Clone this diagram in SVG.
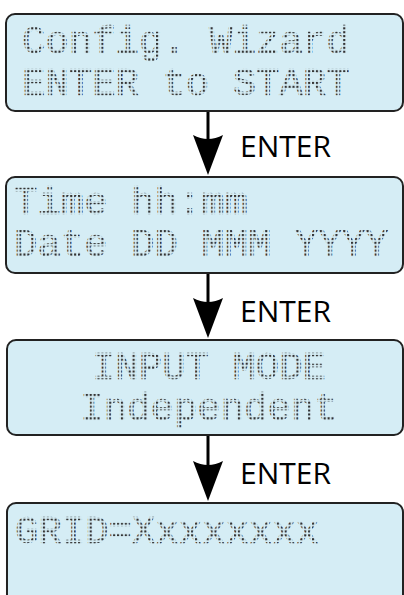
<svg xmlns="http://www.w3.org/2000/svg" width="404" height="595" viewBox="0 0 404 595">
  <style>
    .box { fill: #d5edf5; stroke: #222; stroke-width: 2; }
    .lcd { font-family: "Liberation Mono", "DejaVu Sans Mono", monospace; font-size: 39px; fill: url(#dots); stroke: url(#dots); stroke-width: 0.6; }
    .lbl { font-family: "Open Sans", "Noto Sans", sans-serif; font-size: 30px; fill: #000; }
    .conn { stroke: #000; stroke-width: 3; fill: none; }
  </style>
  <defs>
    <pattern id="dots" patternUnits="userSpaceOnUse" x="0" y="0" width="3.9" height="3.9">
      <rect x="0" y="0" width="2.1" height="2.1" fill="#333"/>
    </pattern>
    <marker id="arrow" markerUnits="userSpaceOnUse" viewBox="0 0 40 30" refX="32" refY="15" markerWidth="40" markerHeight="30" orient="auto">
      <path d="M0,0 L40,15 L0,30 Q8,15 0,0 Z" fill="#000"/>
    </marker>
  </defs>
  <g id="node1">
    <rect class="box" x="6" y="14" width="397" height="97" rx="9"/>
    <text class="lcd" x="22" y="53">Config. Wizard</text>
    <text class="lcd" x="22" y="95">ENTER to START</text>
  </g>
  <g id="node2">
    <rect class="box" x="6" y="177" width="397" height="96" rx="9"/>
    <text class="lcd" x="14" y="214">Time hh:mm</text>
    <text class="lcd" x="14" y="256">Date DD MMM YYYY</text>
  </g>
  <g id="node3">
    <rect class="box" x="7" y="340" width="396" height="95" rx="9"/>
    <text class="lcd" x="209" y="379" text-anchor="middle">INPUT MODE</text>
    <text class="lcd" x="209" y="420" text-anchor="middle">Independent</text>
  </g>
  <g id="node4">
    <rect class="box" x="7" y="503" width="396" height="120" rx="9"/>
    <text class="lcd" x="15" y="543">GRID=Xxxxxxxx</text>
  </g>
  <g id="connectors">
    <line class="conn" x1="208" y1="112" x2="208" y2="167" marker-end="url(#arrow)"/>
    <text class="lbl" x="240" y="157">ENTER</text>
    <line class="conn" x1="208" y1="274" x2="208" y2="330" marker-end="url(#arrow)"/>
    <text class="lbl" x="240" y="322">ENTER</text>
    <line class="conn" x1="208" y1="436" x2="208" y2="493" marker-end="url(#arrow)"/>
    <text class="lbl" x="240" y="484">ENTER</text>
  </g>
</svg>
